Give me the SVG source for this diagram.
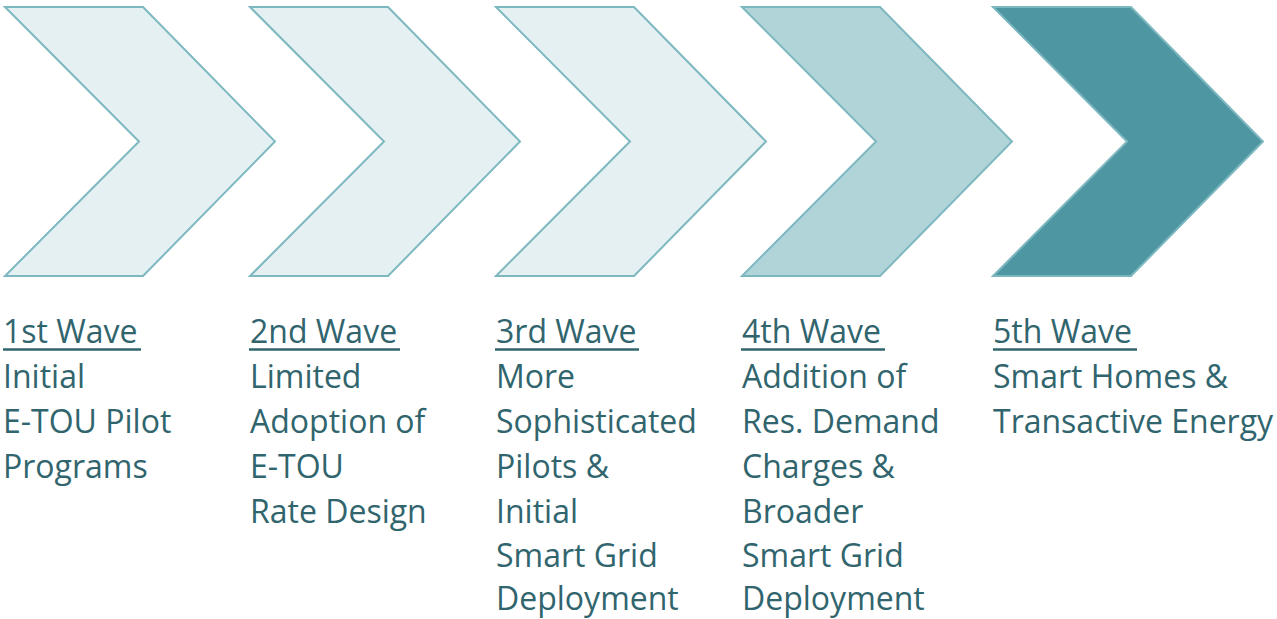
<svg xmlns="http://www.w3.org/2000/svg" width="1277" height="619" viewBox="0 0 1277 619">
<style>
.chev{stroke:#7DB8C0;stroke-width:2;stroke-linejoin:miter}
.c1{fill:#E4F0F2}
.c4{fill:#B1D4D8}
.c5{fill:#4E97A2}
.t{font-family:"Open Sans","Noto Sans",sans-serif;font-size:32px;fill:#31656E}
.ul{stroke:#31656E;stroke-width:2.5}
</style>
<defs>
<polygon id="chevShape" points="0,0 138,0 270,134.5 138,269 0,269 134,134.5"/>
</defs>
<g id="wave1">
<use href="#chevShape" x="5" y="7" class="chev c1"/>
<text class="t"><tspan x="3" y="343">1st Wave</tspan><tspan x="3" y="388">Initial</tspan><tspan x="3" y="433">E-TOU Pilot</tspan><tspan x="3" y="478">Programs</tspan></text>
<line class="ul" x1="3" y1="349.5" x2="141" y2="349.5"/>
</g>
<g id="wave2">
<use href="#chevShape" x="250" y="7" class="chev c1"/>
<text class="t"><tspan x="250" y="343">2nd Wave</tspan><tspan x="250" y="388">Limited</tspan><tspan x="250" y="433">Adoption of</tspan><tspan x="250" y="478">E-TOU</tspan><tspan x="250" y="523">Rate Design</tspan></text>
<line class="ul" x1="249" y1="349.5" x2="400" y2="349.5"/>
</g>
<g id="wave3">
<use href="#chevShape" x="496" y="7" class="chev c1"/>
<text class="t"><tspan x="496" y="343">3rd Wave</tspan><tspan x="496" y="388">More</tspan><tspan x="496" y="433">Sophisticated</tspan><tspan x="496" y="478">Pilots &amp;</tspan><tspan x="496" y="523">Initial</tspan><tspan x="496" y="567">Smart Grid</tspan><tspan x="496" y="610">Deployment</tspan></text>
<line class="ul" x1="495" y1="349.5" x2="639" y2="349.5"/>
</g>
<g id="wave4">
<use href="#chevShape" x="742" y="7" class="chev c4"/>
<text class="t"><tspan x="742" y="343">4th Wave</tspan><tspan x="742" y="388">Addition of</tspan><tspan x="742" y="433">Res. Demand</tspan><tspan x="742" y="478">Charges &amp;</tspan><tspan x="742" y="523">Broader</tspan><tspan x="742" y="567">Smart Grid</tspan><tspan x="742" y="610">Deployment</tspan></text>
<line class="ul" x1="741" y1="349.5" x2="885" y2="349.5"/>
</g>
<g id="wave5">
<use href="#chevShape" x="993" y="7" class="chev c5"/>
<text class="t"><tspan x="993" y="343">5th Wave</tspan><tspan x="993" y="388">Smart Homes &amp;</tspan><tspan x="993" y="433">Transactive Energy</tspan></text>
<line class="ul" x1="993" y1="349.5" x2="1137" y2="349.5"/>
</g>
<g id="connectors"></g>
</svg>
